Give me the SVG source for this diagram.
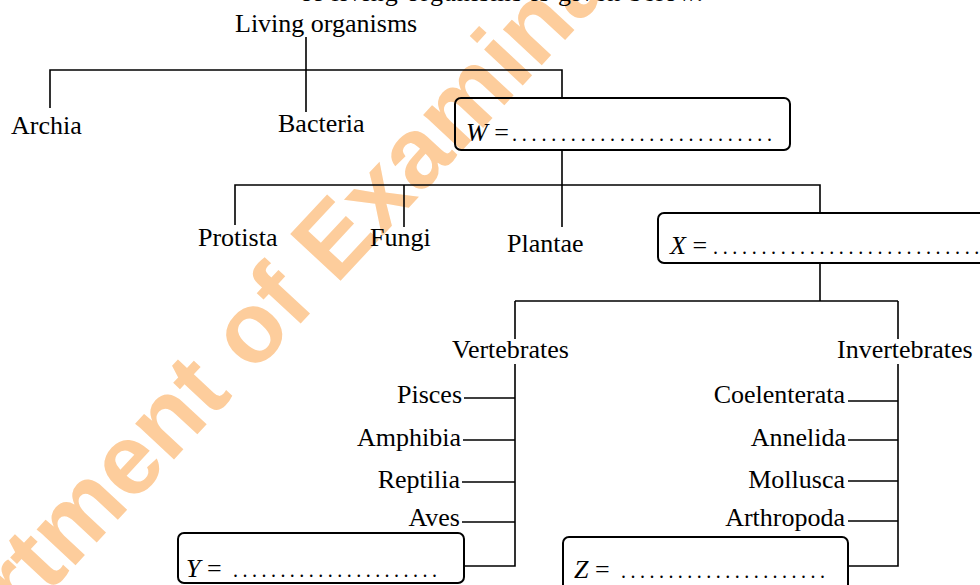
<svg xmlns="http://www.w3.org/2000/svg" width="980" height="585" viewBox="0 0 980 585">
<style>
.t{font-family:"Liberation Serif","Times New Roman",serif;font-size:26px;fill:#000}
.it{font-style:italic}
.dots{font-family:"Liberation Serif","Times New Roman",serif;font-size:20px;fill:#000}
.ln{stroke:#000;stroke-width:1.6;fill:none}
.box{stroke:#000;stroke-width:2;fill:none}
.wm{font-family:"Liberation Sans",Arial,sans-serif;font-weight:bold;font-size:100px;fill:#fdcd9c}
</style>
<rect width="980" height="585" fill="#fff"/>
<text class="wm" transform="translate(21.5,623) rotate(-47)" x="-244.5">Department of Examinations</text>
<text class="t" x="300" y="1" font-size="28" textLength="403" lengthAdjust="spacing">of living organisms is given below.</text>
<g id="connectors">
<path class="ln" d="M306,37V112M50,108V70H562V98"/>
<path class="ln" d="M562,150V227M235,225V185H820V213M404,227V185"/>
<path class="ln" d="M820,263V301M515,301H898M515,301V339M515,364V566H464M898,301V339M898,364V566H848"/>
<path class="ln" d="M464,398H515M463,440H515M462,482H515M462,522H515"/>
<path class="ln" d="M848,401H898M848,440H898M848,481H898M848,521H898"/>
</g>
<g id="living"><text class="t" x="235" y="32">Living organisms</text></g>
<g id="archia"><text class="t" x="11" y="134">Archia</text></g>
<g id="bacteria"><text class="t" x="278" y="132">Bacteria</text></g>
<g id="W"><rect class="box" x="455" y="98" width="335" height="52" rx="6"/><text class="t" x="466" y="141"><tspan class="it">W</tspan> =</text><text class="dots" x="512" y="141" textLength="260" lengthAdjust="spacing">...........................</text></g>
<g id="protista"><text class="t" x="198" y="246">Protista</text></g>
<g id="fungi"><text class="t" x="370" y="246">Fungi</text></g>
<g id="plantae"><text class="t" x="507" y="252">Plantae</text></g>
<g id="X"><rect class="box" x="658" y="213" width="340" height="50" rx="6"/><text class="t" x="670" y="254"><tspan class="it">X</tspan> =</text><text class="dots" x="713" y="254" textLength="276" lengthAdjust="spacing">.............................</text></g>
<g id="vertebrates"><text class="t" x="452" y="358">Vertebrates</text></g>
<g id="invertebrates"><text class="t" x="837" y="358">Invertebrates</text></g>
<g id="pisces"><text class="t" x="462" y="403" text-anchor="end">Pisces</text></g>
<g id="amphibia"><text class="t" x="461" y="446" text-anchor="end">Amphibia</text></g>
<g id="reptilia"><text class="t" x="460" y="488" text-anchor="end">Reptilia</text></g>
<g id="aves"><text class="t" x="460" y="526" text-anchor="end">Aves</text></g>
<g id="coelenterata"><text class="t" x="845" y="403" text-anchor="end">Coelenterata</text></g>
<g id="annelida"><text class="t" x="846" y="446" text-anchor="end">Annelida</text></g>
<g id="mollusca"><text class="t" x="845" y="488" text-anchor="end">Mollusca</text></g>
<g id="arthropoda"><text class="t" x="845" y="526" text-anchor="end">Arthropoda</text></g>
<g id="Y"><rect class="box" x="178" y="533" width="286" height="50" rx="6"/><text class="t" x="186" y="577"><tspan class="it">Y</tspan> =</text><text class="dots" x="233" y="577" textLength="204" lengthAdjust="spacing">......................</text></g>
<g id="Z"><rect class="box" x="563" y="537" width="285" height="56" rx="6"/><text class="t" x="574" y="578"><tspan class="it">Z</tspan> =</text><text class="dots" x="621" y="578" textLength="204" lengthAdjust="spacing">......................</text></g>
</svg>
